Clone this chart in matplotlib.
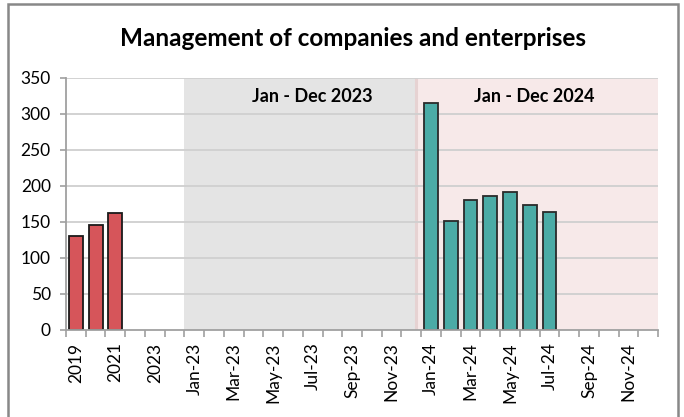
import matplotlib
matplotlib.use("Agg")
import matplotlib.pyplot as plt
from matplotlib.patches import Rectangle
import numpy as np

plt.rcParams['font.family'] = ['Lato', 'DejaVu Sans']

# ---- data ----
categories = ["2019", "2020", "2021", "2022", "2023", "",
              "Jan-23", "Feb-23", "Mar-23", "Apr-23", "May-23", "Jun-23",
              "Jul-23", "Aug-23", "Sep-23", "Oct-23", "Nov-23", "Dec-23",
              "Jan-24", "Feb-24", "Mar-24", "Apr-24", "May-24", "Jun-24",
              "Jul-24", "Aug-24", "Sep-24", "Oct-24", "Nov-24", "Dec-24"]
annual_values = [131, 146, 163, None, None]
monthly_2024 = [315, 152, 181, 186, 191, 173, 164]
title = "Management of companies and enterprises"
label_2023 = "Jan - Dec 2023"
label_2024 = "Jan - Dec 2024"

red = "#D6555A"
teal = "#4BABA6"

fig = plt.figure(figsize=(6.84, 4.17), dpi=100)
L, R, T, B = 66, 658, 78, 330
W, H = 684, 417
ax = fig.add_axes([L / W, 1 - B / H, (R - L) / W, (B - T) / H])

n = len(categories)
x = np.arange(n)

# shaded periods
ax.axvspan(5.5, 17.25, color="#E4E4E4", zorder=0, lw=0)
ax.axvspan(17.25, n - 0.5, color="#F7E9E9", zorder=0, lw=0)
ax.axvline(17.25, color="#E6D2D2", lw=2.2, zorder=0.5)

# grid
for v in range(50, 351, 50):
    ax.axhline(v, color="#CFCFCF", lw=1.3, zorder=1)

# bars
ax_idx = [i for i, v in enumerate(annual_values) if v is not None]
ax.bar(ax_idx, [annual_values[i] for i in ax_idx], width=0.7, color=red,
       edgecolor="#1A1A1A", lw=1.3, zorder=3)
m_idx = [categories.index("Jan-24") + i for i in range(len(monthly_2024))]
ax.bar(m_idx, monthly_2024, width=0.7, color=teal,
       edgecolor="#2A2A2A", lw=1.3, zorder=3)

ax.set_xlim(-0.5, n - 0.5)
ax.set_ylim(0, 350)

# axes styling
for s in ["top", "right"]:
    ax.spines[s].set_visible(False)
for s in ["left", "bottom"]:
    ax.spines[s].set_color("#A0A0A0")
    ax.spines[s].set_linewidth(1.3)
    ax.spines[s].set_zorder(4)

ax.set_yticks(range(0, 351, 50))
ax.tick_params(axis="y", length=4, color="#A0A0A0", width=1.2, labelsize=12.5,
               pad=7)

major = list(range(0, n, 2))
ax.set_xticks(major)
ax.set_xticklabels([categories[i] for i in major], rotation=90, fontsize=12.5)
ax.set_xticks(np.arange(-0.5, n, 1.0), minor=True)
ax.tick_params(axis="x", which="major", length=0, pad=9)
ax.tick_params(axis="x", which="minor", length=5, color="#A0A0A0", width=1.2)

ax.text(12.0, 324, label_2023, ha="center", va="center", fontsize=13,
        fontweight="bold", zorder=5)
ax.text(23.25, 324, label_2024, ha="center", va="center", fontsize=13,
        fontweight="bold", zorder=5)

fig.text(353 / W, 1 - 39 / H, title, ha="center", va="center",
         fontsize=17.5, fontweight="bold")

# outer frame
fig.patches.append(Rectangle((8 / W, -0.05), (678 - 8) / W, 1.05 - 4 / H,
                             transform=fig.transFigure, fill=False,
                             edgecolor="#888888", lw=1.8))

fig.savefig("out.png", dpi=100)
